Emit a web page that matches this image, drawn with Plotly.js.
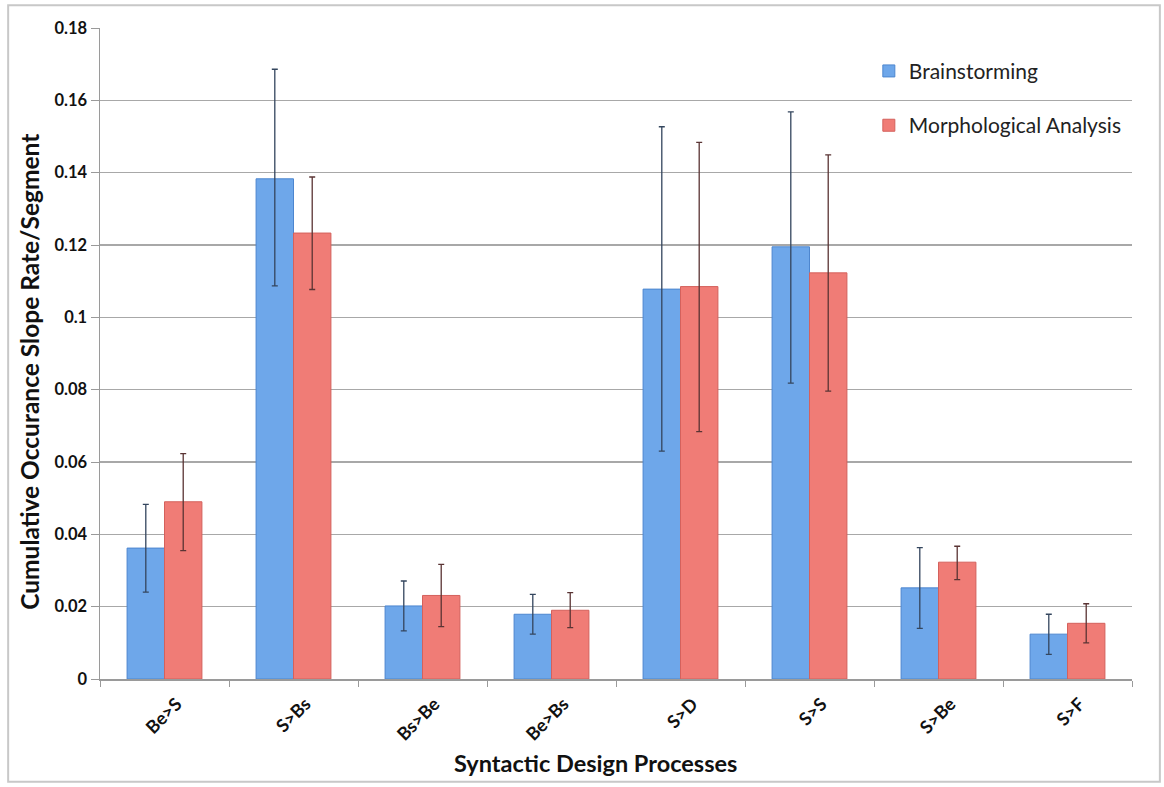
<!DOCTYPE html>
<html>
<head>
<meta charset="utf-8">
<script src="https://cdn.plot.ly/plotly-3.0.1.min.js"></script>
<style>
  html, body { margin: 0; padding: 0; background: #ffffff; }
  #chart { width: 1164px; height: 787px; }
</style>
</head>
<body>
<div id="chart"></div>
<script>
// Categories (syntactic design processes)
const categories = ["Be>S", "S>Bs", "Bs>Be", "Be>Bs", "S>D", "S>S", "S>Be", "S>F"];

// Brainstorming: mean, upper and lower error-bar ends
const brainMean  = [0.0362, 0.1383, 0.0202, 0.0179, 0.1078, 0.1195, 0.0252, 0.0124];
const brainUpper = [0.0483, 0.1686, 0.0271, 0.0234, 0.1527, 0.1568, 0.0363, 0.0179];
const brainLower = [0.0240, 0.1087, 0.0133, 0.0124, 0.0630, 0.0818, 0.0140, 0.0068];

// Morphological Analysis: mean, upper and lower error-bar ends
const morphMean  = [0.0490, 0.1233, 0.0231, 0.0190, 0.1085, 0.1123, 0.0323, 0.0154];
const morphUpper = [0.0623, 0.1388, 0.0317, 0.0239, 0.1484, 0.1449, 0.0367, 0.0208];
const morphLower = [0.0355, 0.1077, 0.0145, 0.0142, 0.0684, 0.0796, 0.0275, 0.0100];

const seriesNames = ["Brainstorming", "Morphological Analysis"];
const yTickValues = [0, 0.02, 0.04, 0.06, 0.08, 0.1, 0.12, 0.14, 0.16, 0.18];
const yTickLabels = ["0", "0.02", "0.04", "0.06", "0.08", "0.1", "0.12", "0.14", "0.16", "0.18"];
const xTitle = "Syntactic Design Processes";
const yTitle = "Cumulative Occurance Slope Rate/Segment";

const plus  = (up, m) => up.map((u, i) => u - m[i]);
const minus = (lo, m) => lo.map((l, i) => m[i] - l);

const font = "Lato, 'Open Sans', sans-serif";

const traces = [
  {
    type: "bar", name: seriesNames[0], x: categories, y: brainMean,
    legendgroup: "a",
    marker: { color: "#6ea7ea", line: { color: "#4d86cf", width: 1 } },
    error_y: { type: "data", symmetric: false, array: plus(brainUpper, brainMean),
               arrayminus: minus(brainLower, brainMean), color: "#34465e", thickness: 1.3, width: 3 }
  },
  {
    type: "bar", name: seriesNames[1], x: categories, y: morphMean,
    legendgroup: "b",
    marker: { color: "#f07c76", line: { color: "#d4615c", width: 1 } },
    error_y: { type: "data", symmetric: false, array: plus(morphUpper, morphMean),
               arrayminus: minus(morphLower, morphMean), color: "#5a3434", thickness: 1.3, width: 3 }
  }
];

const layout = {
  width: 1164, height: 787,
  margin: { l: 100, r: 32, t: 28, b: 108 },
  paper_bgcolor: "#ffffff", plot_bgcolor: "#ffffff",
  font: { family: font, color: "#111111" },
  barmode: "group", bargap: 0.42, bargroupgap: 0,
  showlegend: true,
  legend: {
    x: 0.745, y: 0.965, xanchor: "left", yanchor: "top",
    bgcolor: "rgba(0,0,0,0)", font: { family: font, size: 21, color: "#222" },
    tracegroupgap: 24, itemwidth: 30
  },
  xaxis: {
    type: "category", tickangle: -45, tickson: "boundaries",
    ticks: "outside", ticklen: 6, tickcolor: "#9a9a9a",
    showline: true, linecolor: "#9a9a9a", linewidth: 1.5,
    showgrid: false,
    ticklabelshift: 12, ticklabelstandoff: 6,
    tickfont: { family: font, size: 18, color: "#111", weight: "bold" }
  },
  yaxis: {
    range: [0, 0.18], tickvals: yTickValues, ticktext: yTickLabels,
    ticks: "outside", ticklen: 8, tickcolor: "#9a9a9a",
    showline: true, linecolor: "#9a9a9a", linewidth: 1.5,
    showgrid: true, gridcolor: "#a8a8a8", gridwidth: 1.3,
    zeroline: false,
    tickfont: { family: font, size: 16.5, color: "#111", weight: "bold" }
  },
  annotations: [
    { text: xTitle, xref: "paper", yref: "paper", x: 0.4806, y: -0.129,
      xanchor: "center", yanchor: "middle", showarrow: false,
      font: { family: font, size: 23.5, color: "#111", weight: "bold" } },
    { text: yTitle, xref: "paper", yref: "paper", x: -0.068, y: 0.4716,
      xanchor: "center", yanchor: "middle", textangle: -90, showarrow: false,
      font: { family: font, size: 24.5, color: "#111", weight: "bold" } }
  ],
  shapes: [
    { type: "rect", xref: "paper", yref: "paper",
      x0: -0.089, x1: 1.027, y0: -0.158, y1: 1.035,
      line: { color: "#c8c8c8", width: 2 }, fillcolor: "rgba(0,0,0,0)", layer: "below" }
  ]
};

Plotly.newPlot("chart", traces, layout, { displayModeBar: false, staticPlot: true });
</script>
</body>
</html>
